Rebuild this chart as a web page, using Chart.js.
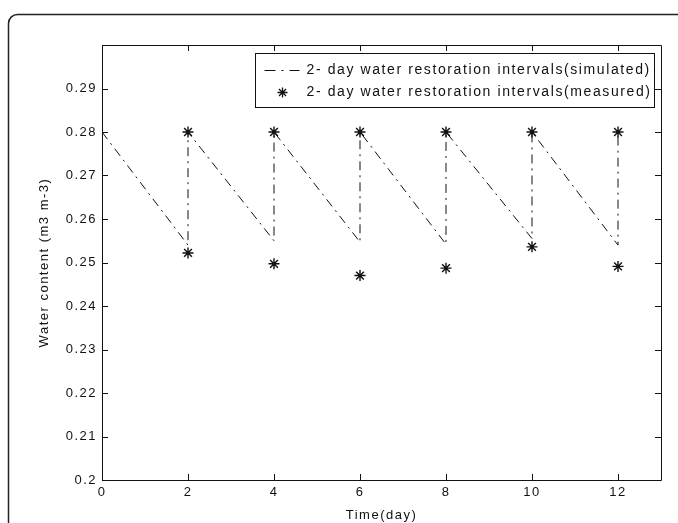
<!DOCTYPE html>
<html>
<head>
<meta charset="utf-8">
<script src="https://cdn.jsdelivr.net/npm/chart.js@4.4.1/dist/chart.umd.min.js"></script>
<style>
  html, body { margin: 0; padding: 0; background: #fff; }
  #wrap { width: 678px; height: 523px; }
</style>
</head>
<body>
<div id="wrap"><canvas id="myChart" width="678" height="523"></canvas></div>
<script>
const ctx = document.getElementById('myChart').getContext('2d');

// simulated water content: linear drawdown, refilled to 0.28 every 2 days
const simDays = [0, 2, 2, 4, 4, 6, 6, 8, 8, 10, 10, 12, 12];
const simWater = [0.28, 0.254, 0.28, 0.255, 0.28, 0.2547, 0.28, 0.2542, 0.28, 0.2555, 0.28, 0.254, 0.28];

// measured water content before and after each restoration
const measDays = [2, 2, 4, 4, 6, 6, 8, 8, 10, 10, 12, 12];
const measWater = [0.28, 0.2522, 0.28, 0.2497, 0.28, 0.247, 0.28, 0.2487, 0.28, 0.2536, 0.28, 0.2491];

const yTicks = [0.2, 0.21, 0.22, 0.23, 0.24, 0.25, 0.26, 0.27, 0.28, 0.29];
const xTicks = [0, 2, 4, 6, 8, 10, 12];

const labels = [
  '2- day water restoration intervals(simulated)',
  '2- day water restoration intervals(measured)'
];

const FONT = 'Liberation Sans, Arial, sans-serif';
const SPACING = '1.5px';
const INK = '#111';

// axes box with inward ticks on all four sides, plus the outer figure frame
const boxPlugin = {
  id: 'box',
  beforeDraw(chart) {
    chart.ctx.letterSpacing = SPACING;
  },
  afterDraw(chart) {
    const c = chart.ctx;
    const a = chart.chartArea;
    const xs = chart.scales.x, ys = chart.scales.y;
    c.save();
    c.strokeStyle = INK;
    c.lineWidth = 1;
    c.beginPath();
    c.rect(Math.round(a.left) + 0.5, Math.round(a.top) + 0.5,
      Math.round(a.right - a.left), Math.round(a.bottom - a.top));
    c.stroke();
    const len = 6;
    c.beginPath();
    xTicks.forEach(v => {
      const px = Math.round(xs.getPixelForValue(v)) + 0.5;
      c.moveTo(px, a.bottom); c.lineTo(px, a.bottom - len);
      c.moveTo(px, a.top); c.lineTo(px, a.top + len);
    });
    yTicks.forEach(v => {
      const py = Math.round(ys.getPixelForValue(v)) + 0.5;
      c.moveTo(a.left, py); c.lineTo(a.left + len, py);
      c.moveTo(a.right, py); c.lineTo(a.right - len, py);
    });
    c.stroke();

    // rounded frame around the figure
    c.strokeStyle = '#222';
    c.lineWidth = 1.5;
    c.beginPath();
    const r = 9, fx = 8.5, fy = 14.5;
    c.moveTo(fx, chart.height + 5);
    c.lineTo(fx, fy + r);
    c.arcTo(fx, fy, fx + r, fy, r);
    c.lineTo(chart.width + 5, fy);
    c.stroke();

    // legend box
    const lx = 255.5, ly = 53.5, lw = 399, lh = 54;
    c.fillStyle = '#fff';
    c.fillRect(lx, ly, lw, lh);
    c.lineWidth = 1;
    c.strokeStyle = INK;
    c.strokeRect(lx, ly, lw, lh);
    const ds = chart.data.datasets;
    const row1 = ly + 17, row2 = ly + 39;
    c.setLineDash([11, 6, 2, 6]);
    c.beginPath();
    c.moveTo(lx + 9, row1); c.lineTo(lx + 44, row1);
    c.stroke();
    c.setLineDash([]);
    c.lineWidth = 1.3;
    drawStar(c, lx + 27, row2, 5);
    c.fillStyle = INK;
    c.font = '14px ' + FONT;
    c.letterSpacing = '1.6px';
    c.textBaseline = 'middle';
    c.textAlign = 'left';
    c.fillText(ds[0].label, lx + 51, row1);
    c.fillText(ds[1].label, lx + 51, row2);
    c.restore();
  }
};

function drawStar(c, x, y, r) {
  const d = r * Math.SQRT1_2;
  c.beginPath();
  c.moveTo(x - r, y); c.lineTo(x + r, y);
  c.moveTo(x, y - r); c.lineTo(x, y + r);
  c.moveTo(x - d, y - d); c.lineTo(x + d, y + d);
  c.moveTo(x - d, y + d); c.lineTo(x + d, y - d);
  c.stroke();
}

const chart = new Chart(ctx, {
  type: 'scatter',
  data: {
    datasets: [
      {
        label: labels[0],
        data: simDays.map((d, i) => ({ x: d, y: simWater[i] })),
        showLine: true,
        borderColor: INK,
        borderWidth: 1,
        borderDash: [9, 5, 2, 5],
        pointRadius: 0,
        fill: false
      },
      {
        label: labels[1],
        data: measDays.map((d, i) => ({ x: d, y: measWater[i] })),
        showLine: false,
        pointStyle: 'star',
        pointRadius: 5.5,
        borderColor: INK,
        backgroundColor: INK,
        pointBorderWidth: 1.4
      }
    ]
  },
  options: {
    responsive: false,
    animation: false,
    layout: { padding: { left: 0, right: 17, top: 45, bottom: 0 } },
    plugins: {
      legend: { display: false },
      tooltip: { enabled: false }
    },
    scales: {
      x: {
        type: 'linear',
        min: 0,
        max: 13,
        grid: { display: false, drawTicks: false },
        border: { display: false },
        afterBuildTicks: s => { s.ticks = xTicks.map(v => ({ value: v })); },
        afterFit: s => { s.height = 43; },
        ticks: {
          color: INK,
          padding: 5,
          font: { family: FONT, size: 13 },
          maxRotation: 0,
          callback: v => String(v)
        },
        title: {
          display: true,
          text: 'Time(day)',
          color: INK,
          padding: { top: 0, bottom: 0 },
          font: { family: FONT, size: 13 }
        }
      },
      y: {
        min: 0.2,
        max: 0.3,
        grid: { display: false, drawTicks: false },
        border: { display: false },
        afterBuildTicks: s => { s.ticks = yTicks.map(v => ({ value: v })); },
        afterFit: s => { s.width = 102; },
        ticks: {
          color: INK,
          padding: 5,
          font: { family: FONT, size: 13 },
          callback: v => String(+v.toFixed(2))
        },
        title: {
          display: true,
          text: 'Water content (m3 m-3)',
          color: INK,
          padding: { top: 37, bottom: 0 },
          font: { family: FONT, size: 13 }
        }
      }
    }
  },
  plugins: [boxPlugin]
});
</script>
</body>
</html>
